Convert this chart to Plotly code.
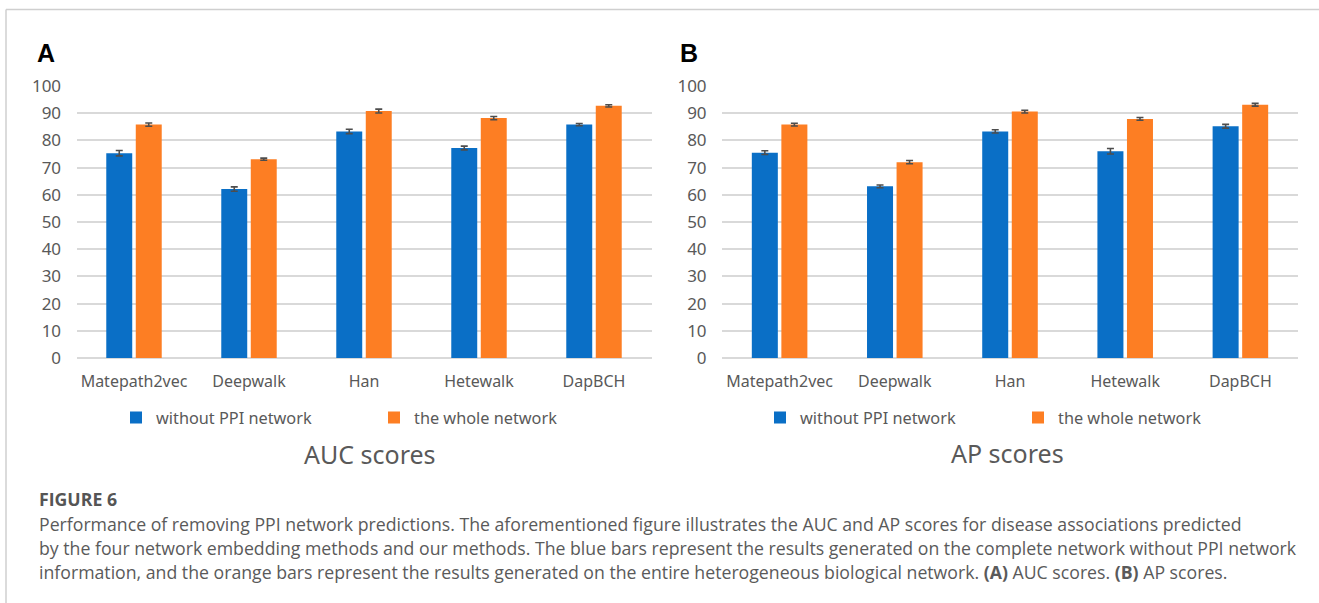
import plotly.graph_objects as go

W, H = 1319, 603

methods = ["Matepath2vec", "Deepwalk", "Han", "Hetewalk", "DapBCH"]
series_names = ["without PPI network", "the whole network"]

auc_without = [75.3, 62.1, 83.3, 77.2, 85.8]
auc_without_err = [1.0, 0.8, 0.8, 0.7, 0.4]
auc_whole = [85.8, 73.1, 90.8, 88.2, 92.7]
auc_whole_err = [0.6, 0.4, 0.7, 0.6, 0.4]

ap_without = [75.5, 63.1, 83.3, 76.0, 85.2]
ap_without_err = [0.7, 0.5, 0.6, 1.0, 0.7]
ap_whole = [85.8, 72.0, 90.6, 87.9, 93.1]
ap_whole_err = [0.5, 0.6, 0.5, 0.5, 0.5]

y_ticks = [0, 10, 20, 30, 40, 50, 60, 70, 80, 90, 100]

BLUE = "#0A6FC6"
ORANGE = "#FD7E23"
GRAY_TXT = "#595959"
GRID = "#D9D9D9"
FONT = "Noto Sans"
CAP_FONT = "Open Sans"

def px_x(x):
    return x / W

def px_y(y):
    return 1 - y / H

fig = go.Figure()

panels = [
    ("x", "y", auc_without, auc_without_err, auc_whole, auc_whole_err, "legend"),
    ("x2", "y2", ap_without, ap_without_err, ap_whole, ap_whole_err, "legend2"),
]
for xa, ya, v1, e1, v2, e2, lg in panels:
    for vals, errs, name, col in [(v1, e1, series_names[0], BLUE), (v2, e2, series_names[1], ORANGE)]:
        fig.add_trace(go.Bar(
            x=methods, y=vals, name=name, xaxis=xa, yaxis=ya, legend=lg,
            marker=dict(color=col, line=dict(width=0)),
            error_y=dict(type="data", array=errs, color="#4D4D4D", thickness=1.6, width=3.5),
        ))

ydom = [px_y(358), px_y(86)]
axis_common_y = dict(range=[0, 100], tickvals=y_ticks, showgrid=True, gridcolor=GRID, gridwidth=1.5,
                     zeroline=True, zerolinecolor=GRID, zerolinewidth=1.5, showline=False, automargin=False,
                     tickfont=dict(family=FONT, size=17, color=GRAY_TXT), ticks="outside", ticklen=11,
                     tickcolor="rgba(0,0,0,0)", fixedrange=True)
axis_common_x = dict(showgrid=False, showline=False, ticks="outside", ticklen=9, tickcolor="rgba(0,0,0,0)",
                     automargin=False, tickfont=dict(family=FONT, size=16, color=GRAY_TXT))

fig.update_layout(
    width=W, height=H,
    margin=dict(l=0, r=0, t=0, b=0, pad=0, autoexpand=False),
    paper_bgcolor="white", plot_bgcolor="white",
    barmode="group", bargap=0.487, bargroupgap=0.12,
    xaxis=dict(domain=[px_x(76.5), px_x(651.5)], anchor="y", **axis_common_x),
    yaxis=dict(domain=ydom, anchor="x", **axis_common_y),
    xaxis2=dict(domain=[px_x(722), px_x(1298)], anchor="y2", **axis_common_x),
    yaxis2=dict(domain=ydom, anchor="x2", **axis_common_y),
    legend=dict(orientation="h", x=px_x(116), y=px_y(418), xanchor="left", yanchor="middle",
                font=dict(family=FONT, size=16.3, color=GRAY_TXT), entrywidth=213, itemwidth=30,
                bgcolor="rgba(0,0,0,0)"),
    legend2=dict(orientation="h", x=px_x(760), y=px_y(418), xanchor="left", yanchor="middle",
                 font=dict(family=FONT, size=16.3, color=GRAY_TXT), entrywidth=213, itemwidth=30,
                 bgcolor="rgba(0,0,0,0)"),
    showlegend=True,
)

annotations = [
    dict(text="<b>A</b>", x=px_x(35), y=px_y(53), font=dict(family="Liberation Sans", size=25, color="black"),
         xanchor="left", yanchor="middle"),
    dict(text="<b>B</b>", x=px_x(678), y=px_y(53), font=dict(family="Liberation Sans", size=25, color="black"),
         xanchor="left", yanchor="middle"),
    dict(text="AUC scores", x=px_x(370), y=px_y(454), font=dict(family=FONT, size=25, color=GRAY_TXT),
         xanchor="center", yanchor="middle"),
    dict(text="AP scores", x=px_x(1007), y=px_y(453), font=dict(family=FONT, size=25, color=GRAY_TXT),
         xanchor="center", yanchor="middle"),
    dict(text="<b>FIGURE 6</b>", x=px_x(37), y=px_y(499), font=dict(family=CAP_FONT, size=17.7, color="#555555"),
         xanchor="left", yanchor="middle"),
]
caption_lines = [
    "Performance of removing PPI network predictions. The aforementioned figure illustrates the AUC and AP scores for disease associations predicted",
    "by the four network embedding methods and our methods. The blue bars represent the results generated on the complete network without PPI network",
    "information, and the orange bars represent the results generated on the entire heterogeneous biological network. <b>(A)</b> AUC scores. <b>(B)</b> AP scores.",
]
for i, line in enumerate(caption_lines):
    annotations.append(dict(text=line, x=px_x(37), y=px_y(524 + 24 * i),
                            font=dict(family=CAP_FONT, size=17.7, color="#5A5A5A"),
                            xanchor="left", yanchor="middle"))
for a in annotations:
    a.update(xref="paper", yref="paper", showarrow=False)
fig.update_layout(annotations=annotations)

fig.update_layout(shapes=[
    dict(type="line", xref="paper", yref="paper", x0=px_x(6), x1=1, y0=px_y(9.5), y1=px_y(9.5),
         line=dict(color="#CFCFCF", width=1.5)),
    dict(type="line", xref="paper", yref="paper", x0=px_x(6), x1=px_x(6), y0=px_y(9.5), y1=0,
         line=dict(color="#CFCFCF", width=1.5)),
])

fig.write_html("out.html", config={"displayModeBar": False},
               post_script="document.body.style.margin='0';document.body.style.overflow='hidden';")
